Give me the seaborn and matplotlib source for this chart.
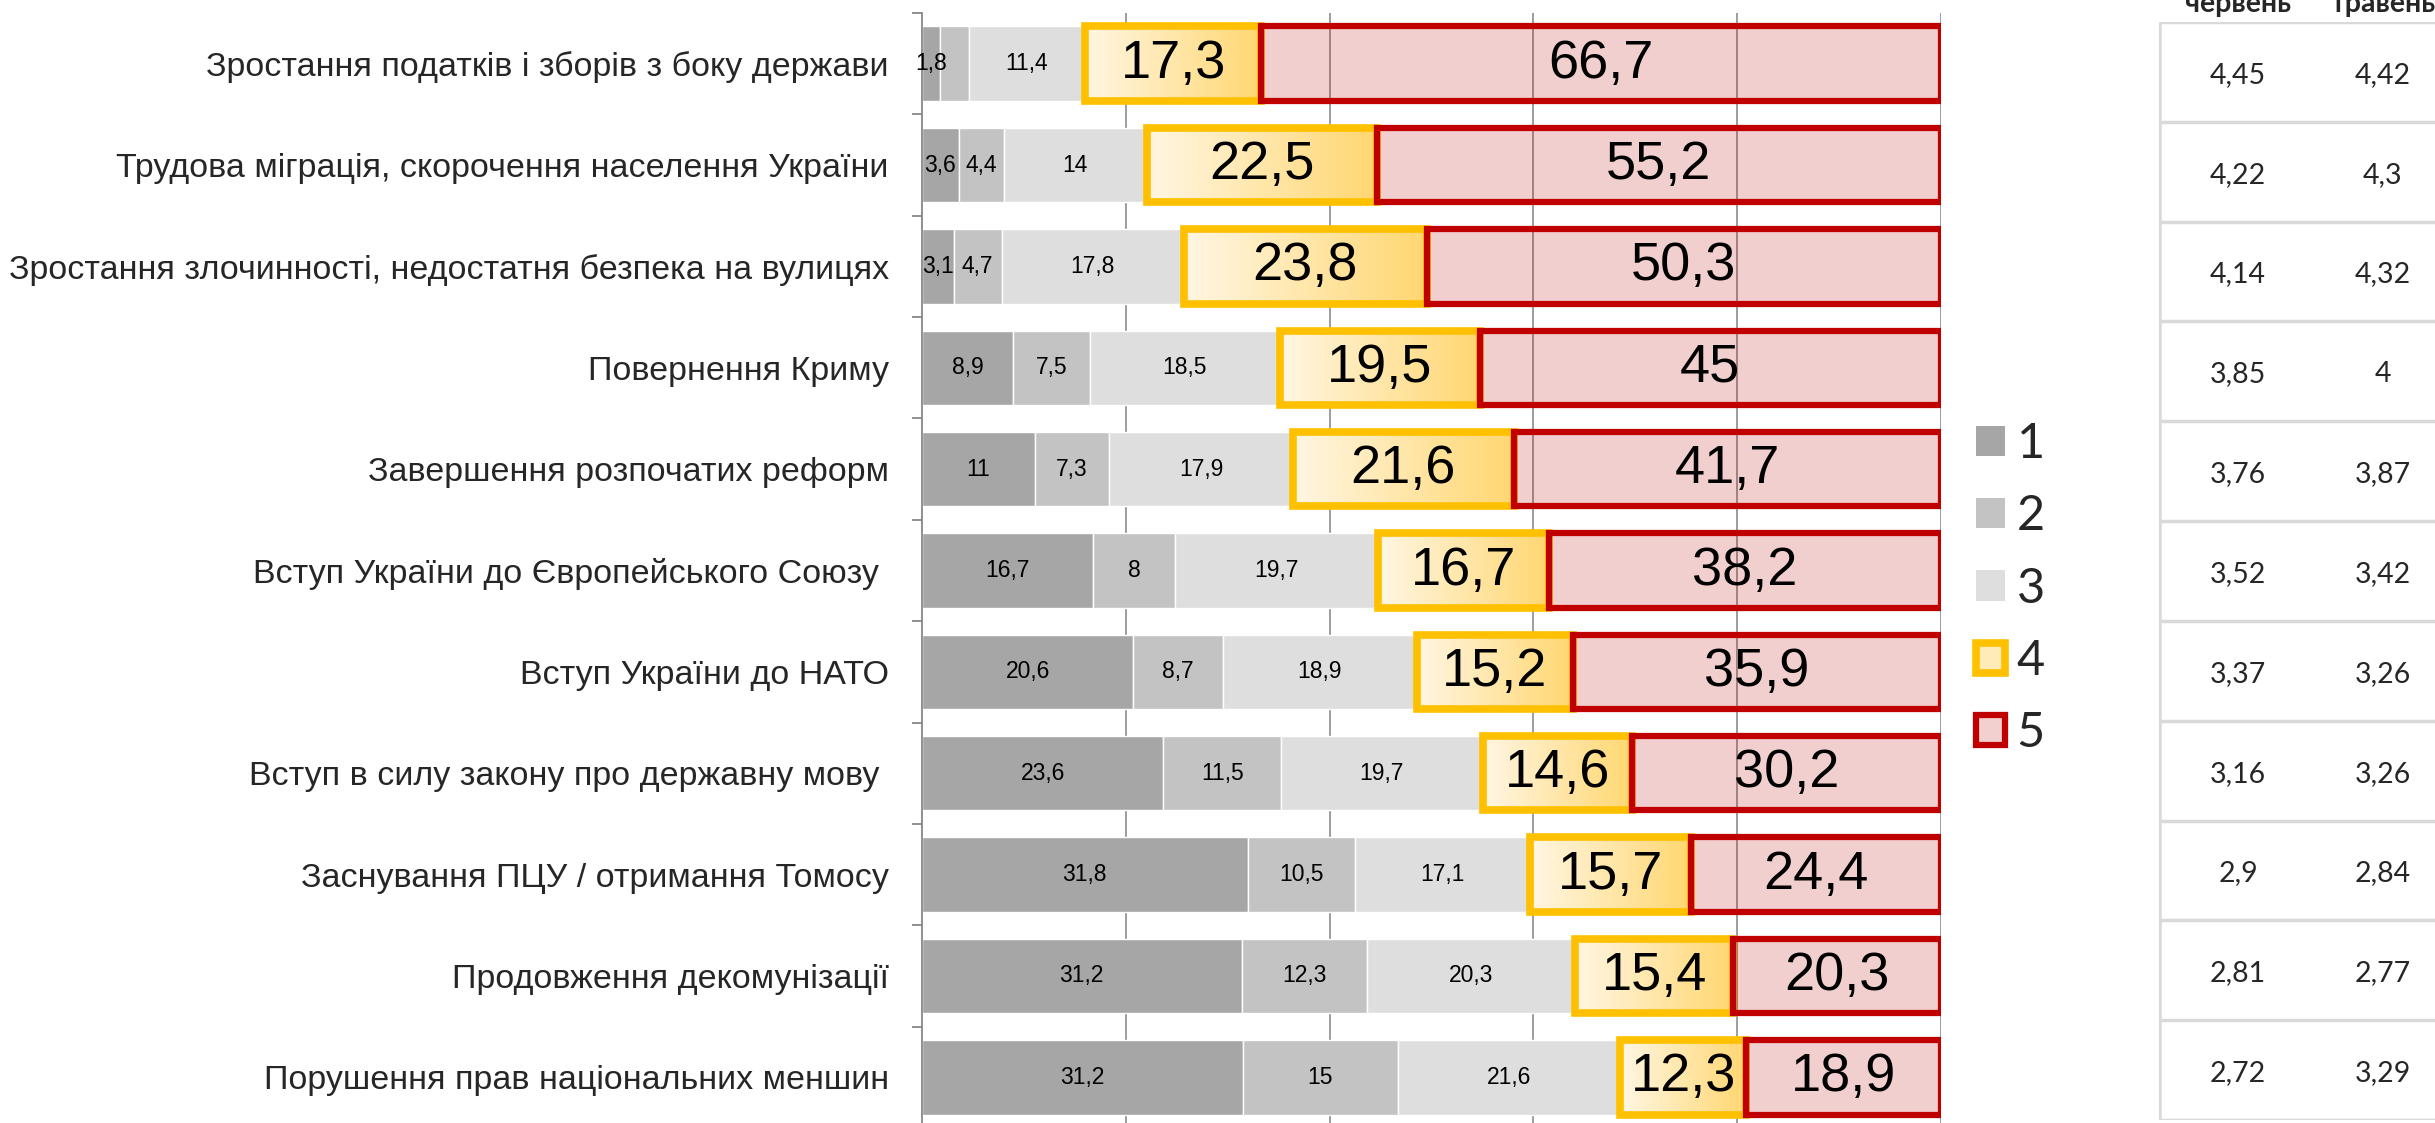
import numpy as np
import pandas as pd
import seaborn as sns
from matplotlib import pyplot as plt
from matplotlib import font_manager
from matplotlib.patches import Patch
from matplotlib.colors import LinearSegmentedColormap

# Дані
categories = [
    "Зростання податків і зборів з боку держави",
    "Трудова міграція, скорочення населення України",
    "Зростання злочинності, недостатня безпека на вулицях",
    "Повернення Криму",
    "Завершення розпочатих реформ",
    "Вступ України до Європейського Союзу ",
    "Вступ України до НАТО",
    "Вступ в силу закону про державну мову ",
    "Заснування ПЦУ / отримання Томосу",
    "Продовження декомунізації",
    "Порушення прав національних меншин",
]
seg1 = [1.8, 3.6, 3.1, 8.9, 11, 16.7, 20.6, 23.6, 31.8, 31.2, 31.2]
seg2 = [2.8, 4.4, 4.7, 7.5, 7.3, 8, 8.7, 11.5, 10.5, 12.3, 15]
seg3 = [11.4, 14, 17.8, 18.5, 17.9, 19.7, 18.9, 19.7, 17.1, 20.3, 21.6]
seg4 = [17.3, 22.5, 23.8, 19.5, 21.6, 16.7, 15.2, 14.6, 15.7, 15.4, 12.3]
seg5 = [66.7, 55.2, 50.3, 45, 41.7, 38.2, 35.9, 30.2, 24.4, 20.3, 18.9]
series_names = ["1", "2", "3", "4", "5"]
unlabeled = [("2", 0)]  # сегмент без підпису

table_headers = ["червень", "травень"]
june = [4.45, 4.22, 4.14, 3.85, 3.76, 3.52, 3.37, 3.16, 2.9, 2.81, 2.72]
may = [4.42, 4.3, 4.32, 4, 3.87, 3.42, 3.26, 3.26, 2.84, 2.77, 3.29]


def fmt(v):
    return f"{v:g}".replace(".", ",")


sns.set_theme(style="white")
names = {f.name for f in font_manager.fontManager.ttflist}
narrow = "Liberation Sans Narrow" if "Liberation Sans Narrow" in names else "Liberation Sans"
plain = "Lato" if "Lato" in names else "DejaVu Sans"
plt.rcParams["font.family"] = [narrow, "DejaVu Sans"]

df = pd.DataFrame(dict(zip(series_names, [seg1, seg2, seg3, seg4, seg5])), index=categories)
shares = df.div(df.sum(axis=1), axis=0) * 100
lefts = shares.cumsum(axis=1) - shares

W, H = 2435, 1123
fig = plt.figure(figsize=(W / 100, H / 100), dpi=100)
ax = fig.add_axes([922 / W, -5 / H, 1019 / W, 1115 / H])

y = np.arange(len(categories))
bh = 0.735
styles = {
    "1": dict(color="#A6A6A6", zorder=2),
    "2": dict(color="#C3C3C3", zorder=2),
    "3": dict(color="#DEDEDE", zorder=2),
    "4": dict(facecolor="none", edgecolor="#FFC000", linewidth=5.5, zorder=3),
    "5": dict(facecolor=(0.75, 0, 0, 0.19), edgecolor="#C00000", linewidth=4.5, zorder=4),
}
grad_cmap = LinearSegmentedColormap.from_list("g4", ["#FFF6E3", "#FFD771"])
gradient = np.linspace(0, 1, 256).reshape(1, -1)

for s in series_names:
    bars = ax.barh(y, shares[s], left=lefts[s], height=bh, **styles[s])
    if s == "4":
        for b in bars:
            x0, y0, w, hh = b.get_x(), b.get_y(), b.get_width(), b.get_height()
            im = ax.imshow(gradient, cmap=grad_cmap, extent=(x0, x0 + w, y0 + hh, y0),
                           aspect="auto", zorder=2.5)
            im.set_clip_path(b)
    labels = [fmt(v) if (s, i) not in unlabeled else "" for i, v in enumerate(df[s])]
    big = s in ("4", "5")
    ax.bar_label(bars, labels=labels, label_type="center",
                 fontsize=39 if big else 16.5, color="black", zorder=6)

ax.set_xlim(0, 100)
ax.set_ylim(len(categories) - 0.5, -0.5)
ax.set_xticks([20, 40, 60, 80, 100])
ax.tick_params(axis="x", length=0, labelbottom=False)
ax.grid(axis="x", color="#8C8C8C", linewidth=1.2)
ax.grid(axis="y", visible=False)
ax.set_axisbelow(True)
ax.set_yticks(y, categories)
ax.set_yticks(np.arange(-0.5, len(categories), 1), minor=True)
ax.tick_params(axis="y", which="major", length=0, pad=24, labelsize=24.5)
ax.tick_params(axis="y", which="minor", length=7, width=1.3, color="#888888",
               direction="out", left=True)
for side in ["top", "right", "bottom"]:
    ax.spines[side].set_visible(False)
ax.spines["left"].set_color("#888888")
ax.spines["left"].set_linewidth(1.3)

# Легенда
handles = [
    Patch(facecolor="#A6A6A6", edgecolor="none"),
    Patch(facecolor="#C3C3C3", edgecolor="none"),
    Patch(facecolor="#DEDEDE", edgecolor="none"),
    Patch(facecolor="#FFEBB8", edgecolor="#FFC000", linewidth=5.5),
    Patch(facecolor="#F2D0D0", edgecolor="#C00000", linewidth=4.5),
]
fig.legend(handles, series_names, loc="upper left", bbox_to_anchor=(1952 / W, 1 - 398 / H),
           frameon=False, borderpad=0, handlelength=0.58, handleheight=0.58,
           handletextpad=0.25, labelspacing=0.58, prop=dict(family=plain, size=35))

# Таблиця середніх
tax = fig.add_axes([2159 / W, 3 / H, 276 / W, 1098 / H])
tax.set_xlim(-0.545, 1.359)
tax.set_ylim(len(categories), 0)
tax.axis("off")
for k in range(len(categories) + 1):
    tax.axhline(k, color="#D9D9D9", linewidth=2.5)
tax.axvline(-0.545, color="#D9D9D9", linewidth=4)
for col, vals in enumerate([june, may]):
    for k, v in enumerate(vals):
        tax.text(col, k + 0.53, fmt(v), ha="center", va="center", fontsize=20.5, family=plain)
    # заголовки обрізані верхнім краєм, як в оригіналі
    tax.text(col, -0.1, table_headers[col], ha="center", va="baseline", fontsize=20.5,
             family=plain, weight="bold", clip_on=False)

fig.savefig("out.png", dpi=100)
